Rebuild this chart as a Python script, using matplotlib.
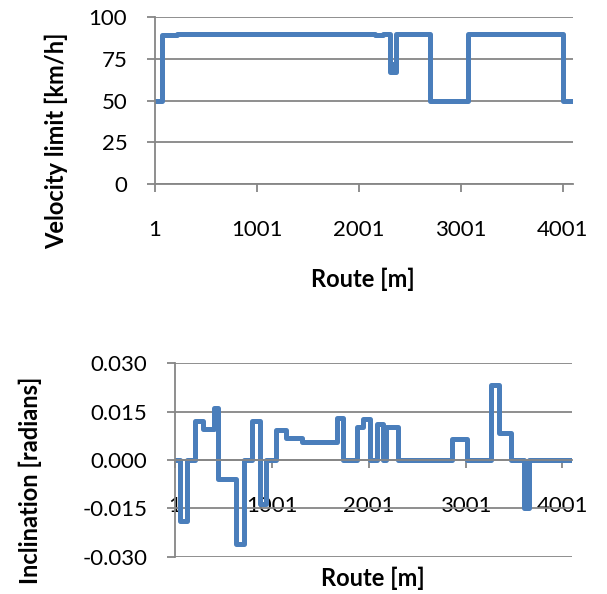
"""Speed limit and road inclination along the test route."""

import matplotlib

matplotlib.use("Agg")

import matplotlib.pyplot as plt

# Speed limit profile: segment start points [m] and the limit on each segment.
speed_breaks = [1, 66, 213, 2157, 2235, 2308, 2328, 2345, 2368, 2700, 3070, 4000, 4100]
speed_limits = [50, 89, 90, 89, 90, 67, 72, 67, 90, 50, 90, 50]

# Inclination profile: segment start points [m] and the slope on each segment.
incl_breaks = [
    1, 55, 120, 210, 295, 400, 450, 630, 714, 800, 875, 945, 1045, 1148,
    1310, 1672, 1740, 1880, 1940, 2010, 2085, 2150, 2175, 2300, 2862, 3017,
    3259, 3345, 3466, 3603, 3655, 4100,
]
incl_values = [
    0.0, -0.019, 0.0, 0.012, 0.0097, 0.016, -0.006, -0.026, 0.0, 0.012,
    -0.0135, 0.0, 0.0093, 0.0068, 0.0055, 0.0131, 0.0, 0.0102, 0.0128, 0.0,
    0.0113, 0.0, 0.0103, 0.0, 0.0066, 0.0, 0.0234, 0.0083, 0.0, -0.0148, 0.0,
]

route_ticks = [1, 1001, 2001, 3001, 4001]
speed_ticks = [0, 25, 50, 75, 100]
incl_ticks = [-0.030, -0.015, 0.0, 0.015, 0.030]

LINE_COLOR = "#4a7ebb"
GRID_COLOR = "#868686"
LINE_WIDTH = 3.6

plt.rcParams["font.family"] = ["Lato", "DejaVu Sans"]


def style_axis(axis):
    axis.spines["top"].set_visible(False)
    axis.spines["right"].set_visible(False)
    for side in ("left", "bottom"):
        axis.spines[side].set_color(GRID_COLOR)
        axis.spines[side].set_linewidth(1.3)
    axis.grid(axis="y", color=GRID_COLOR, linewidth=1.3)
    axis.set_axisbelow(True)
    axis.tick_params(axis="both", colors=GRID_COLOR, labelcolor="black",
                     labelsize=16, length=6, width=1.3)
    axis.tick_params(axis="y", pad=14)
    axis.tick_params(axis="x", pad=20)


fig = plt.figure(figsize=(6.07, 5.94), dpi=100)

# Upper panel: velocity limit
ax_speed = fig.add_axes([0.2554, 0.6902, 0.6886, 0.2811])
style_axis(ax_speed)
ax_speed.plot(speed_breaks, speed_limits + speed_limits[-1:],
              drawstyle="steps-post", color=LINE_COLOR, linewidth=LINE_WIDTH,
              solid_joinstyle="round", solid_capstyle="round")
ax_speed.set_xlim(1, 4100)
ax_speed.set_ylim(0, 100)
ax_speed.set_xticks(route_ticks)
ax_speed.set_yticks(speed_ticks)

# Lower panel: inclination, with the route axis crossing at zero
ax_incl = fig.add_axes([0.2883, 0.0628, 0.654, 0.3256])
style_axis(ax_incl)
ax_incl.spines["bottom"].set_position(("data", 0.0))
ax_incl.plot(incl_breaks, incl_values + incl_values[-1:],
             drawstyle="steps-post", color=LINE_COLOR, linewidth=LINE_WIDTH,
             solid_joinstyle="round", solid_capstyle="round")
ax_incl.set_xlim(1, 4100)
ax_incl.set_ylim(-0.030, 0.030)
ax_incl.set_xticks(route_ticks)
ax_incl.set_yticks(incl_ticks)
ax_incl.set_yticklabels([f"{v:.3f}" for v in incl_ticks])

label_font = dict(fontsize=17, fontweight="bold")
fig.text(56 / 607, 1 - 141 / 594, "Velocity limit [km/h]", rotation=90,
         ha="center", va="center", **label_font)
fig.text(363 / 607, 1 - 279 / 594, "Route [m]", ha="center", va="center",
         **label_font)
fig.text(30 / 607, 1 - 480 / 594, "Inclination [radians]", rotation=90,
         ha="center", va="center", **label_font)
fig.text(373 / 607, 1 - 578 / 594, "Route [m]", ha="center", va="center",
         **label_font)

fig.savefig("out.png", dpi=100)
